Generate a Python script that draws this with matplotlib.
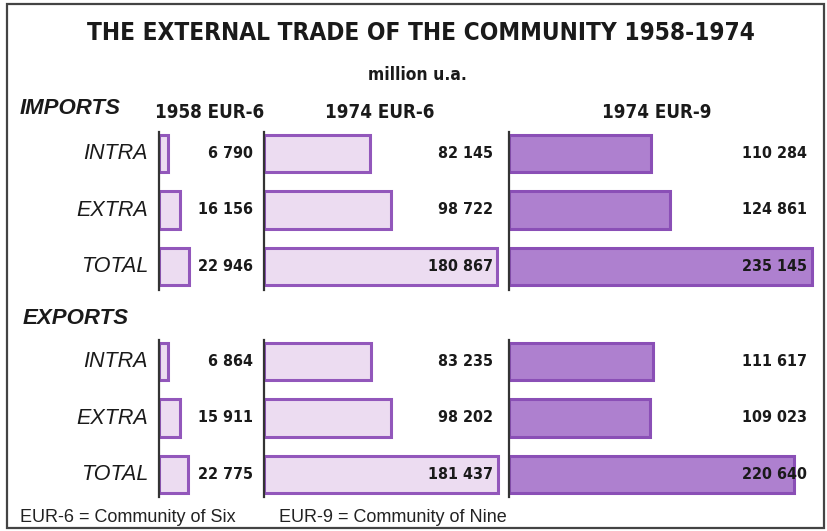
import matplotlib
matplotlib.use('Agg')
import matplotlib.pyplot as plt
from matplotlib.patches import Rectangle
from matplotlib.transforms import blended_transform_factory

# data (million u.a.)
rows = ['INTRA', 'EXTRA', 'TOTAL']
panels = ['1958 EUR-6', '1974 EUR-6', '1974 EUR-9']
imports_1958_eur6 = [6790, 16156, 22946]
imports_1974_eur6 = [82145, 98722, 180867]
imports_1974_eur9 = [110284, 124861, 235145]
exports_1958_eur6 = [6864, 15911, 22775]
exports_1974_eur6 = [83235, 98202, 181437]
exports_1974_eur9 = [111617, 109023, 220640]

W, H = 827, 531
fig = plt.figure(figsize=(W / 100, H / 100), dpi=100)
fig.patch.set_facecolor('white')

# condensed bold for the headings and numbers, plain sans for the labels
narrow = dict(family='DejaVu Sans', stretch='condensed', weight='bold')
sans = ['Liberation Sans', 'DejaVu Sans']
ink = '#1a1a1a'
light_fill, light_edge = '#ecdcf1', '#9257bb'
dark_fill, dark_edge = '#ae80cf', '#8a4fb6'


def fx(x):
    return x / W


def fy(y):
    return 1 - y / H


# frame round the whole chart
fig.patches.append(Rectangle((fx(7), fy(528)), fx(824) - fx(7), fy(4) - fy(528),
                             transform=fig.transFigure, fill=False,
                             edgecolor='#444444', linewidth=1.6))

fig.text(fx(421), fy(33), 'THE EXTERNAL TRADE OF THE COMMUNITY 1958-1974',
         fontsize=17.5, ha='center', va='center', color=ink, **narrow)
fig.text(fx(417), fy(75), 'million u.a.', fontsize=12.5, ha='center', va='center',
         color=ink, **narrow)

header_x = [210, 380, 657]
for name, hx in zip(panels, header_x):
    fig.text(fx(hx), fy(113), name, fontsize=13.5, ha='center', va='center',
             color=ink, **narrow)

fig.text(fx(20), fy(109), 'IMPORTS', family=sans, weight='bold', style='italic',
         fontsize=16, ha='left', va='center', color=ink)
fig.text(fx(23), fy(318), 'EXPORTS', family=sans, weight='bold', style='italic',
         fontsize=16, ha='left', va='center', color=ink)

fig.text(fx(20), fy(517), 'EUR-6 = Community of Six', family=sans, fontsize=13,
         ha='left', va='center', color='#222222')
fig.text(fx(279), fy(517), 'EUR-9 = Community of Nine', family=sans, fontsize=13,
         ha='left', va='center', color='#222222')

# panel geometry in pixels: axis line x, right edge, value text right edge
axis_x = [159, 264, 509]
right_x = [262, 507, 824]
value_x = [253, 493, 807]
fills = [(light_fill, light_edge), (light_fill, light_edge), (dark_fill, dark_edge)]
units_per_px = 775.0

sections = [
    (132, 290, [imports_1958_eur6, imports_1974_eur6, imports_1974_eur9]),
    (340, 497, [exports_1958_eur6, exports_1974_eur6, exports_1974_eur9]),
]
row_step = 56.5

for top, bottom, series in sections:
    first_row = top + 21.5
    for k, values in enumerate(series):
        ax = fig.add_axes([fx(axis_x[k]), fy(bottom), fx(right_x[k]) - fx(axis_x[k]),
                           fy(top) - fy(bottom)])
        ax.set_facecolor('none')
        ax.set_xlim(0, (right_x[k] - axis_x[k]) * units_per_px)
        ax.set_ylim((bottom - first_row) / row_step, -(first_row - top) / row_step)
        fc, ec = fills[k]
        ax.barh(range(len(rows)), values, height=0.66, color=fc, edgecolor=ec,
                linewidth=2.2, zorder=2)
        for s in ['top', 'right', 'bottom']:
            ax.spines[s].set_visible(False)
        ax.spines['left'].set_linewidth(1.6)
        ax.spines['left'].set_color('#333333')
        ax.set_xticks([])
        ax.set_yticks([])
        trans = blended_transform_factory(ax.transAxes, ax.transData)
        vx = (value_x[k] - axis_x[k]) / (right_x[k] - axis_x[k])
        for i, v in enumerate(values):
            ax.text(vx, i, f'{v:,}'.replace(',', ' '), transform=trans, fontsize=11.5,
                    ha='right', va='center', color=ink, zorder=3, clip_on=False, **narrow)
    for i, name in enumerate(rows):
        fig.text(fx(148), fy(first_row + i * row_step), name, family=sans, style='italic',
                 fontsize=15.5, ha='right', va='center', color=ink)

fig.savefig('out.png', dpi=100, facecolor='white')
